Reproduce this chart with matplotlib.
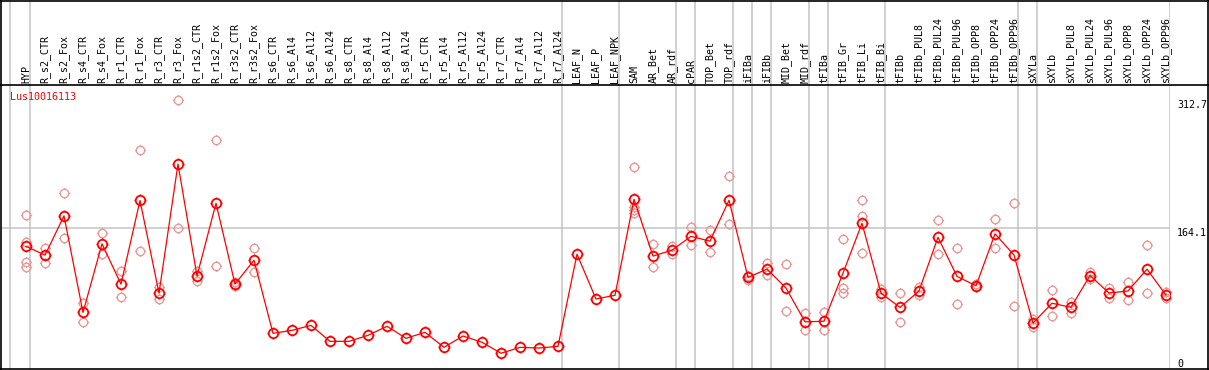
import matplotlib
matplotlib.use('Agg')
import matplotlib.pyplot as plt
import numpy as np
from matplotlib.path import Path
from matplotlib.lines import Line2D

gene = 'Lus10016113'

samples = ['HYP',
           'R_s2_CTR', 'R_s2_Fox', 'R_s4_CTR', 'R_s4_Fox', 'R_r1_CTR', 'R_r1_Fox',
           'R_r3_CTR', 'R_r3_Fox', 'R_r1s2_CTR', 'R_r1s2_Fox', 'R_r3s2_CTR', 'R_r3s2_Fox',
           'R_s6_CTR', 'R_s6_Al4', 'R_s6_Al12', 'R_s6_Al24', 'R_s8_CTR', 'R_s8_Al4',
           'R_s8_Al12', 'R_s8_Al24', 'R_r5_CTR', 'R_r5_Al4', 'R_r5_Al12', 'R_r5_Al24',
           'R_r7_CTR', 'R_r7_Al4', 'R_r7_Al12', 'R_r7_Al24',
           'LEAF_N', 'LEAF_P', 'LEAF_NPK',
           'SAM', 'AR_Bet', 'AR_rdf', 'cPAR', 'TOP_Bet', 'TOP_rdf',
           'iFIBa', 'iFIBb', 'MID_Bet', 'MID_rdf', 'tFIBa', 'tFIB_Gr', 'tFIB_Li', 'tFIB_Bi',
           'tFIBb', 'tFIBb_PUL8', 'tFIBb_PUL24', 'tFIBb_PUL96', 'tFIBb_OPP8', 'tFIBb_OPP24',
           'tFIBb_OPP96', 'sXYLa', 'sXYLb', 'sXYLb_PUL8', 'sXYLb_PUL24', 'sXYLb_PUL96',
           'sXYLb_OPP8', 'sXYLb_OPP24', 'sXYLb_OPP96']

# sample groups (separated by grey lines)
group_sizes = [1, 28, 3, 3, 1, 2, 1, 1, 2, 1, 3, 7, 1, 7]

means = [142.8,
         132.5, 178.2, 65.8, 145.7, 98.7, 196.2, 88.3, 238.6, 108.2, 192.9, 98.8, 126.6,
         41.5, 45.0, 50.8, 32.2, 32.2, 39.2, 49.7, 35.7, 42.7, 25.2, 38.4, 31.1,
         18.3, 25.2, 24.4, 26.4,
         133.6, 81.5, 85.8,
         197.5, 131.4, 138.3, 154.4, 148.8, 196.4,
         106.5, 116.3, 94.2, 54.9, 55.6, 111.6, 169.6, 88.2,
         71.7, 90.8, 153.3, 107.8, 96.8, 157.3, 132.7,
         53.5, 76.5, 71.8, 108.8, 88.4, 90.8, 116.2, 85.9]

replicates = [[179.2, 147.4, 124.2, 118.3],
              [141.2, 123.4], [204.4, 152.1], [77.2, 54.3], [157.9, 133.8],
              [113.7, 83.4], [254.5, 137.0], [95.1, 81.8], [312.7, 164.3],
              [114.0, 102.8], [266.1, 119.9], [100.9, 96.6], [140.8, 112.5],
              [], [], [], [], [], [], [], [], [], [], [], [], [], [], [], [],
              [], [], [],
              [235.0, 188.0, 185.0, 182.0], [145.1, 118.3], [142.8, 134.2],
              [164.9, 143.9], [161.4, 135.8], [224.3, 168.7],
              [108.2, 104.0], [123.4, 109.7], [121.8, 67.1], [65.2, 45.0], [66.3, 45.0],
              [151.3, 94.6, 88.8], [196.3, 178.1, 134.6], [92.7, 84.2],
              [88.1, 54.3], [95.1, 85.8], [173.0, 133.8], [140.4, 75.3], [98.9, 95.1],
              [174.6, 140.4], [193.2, 73.0],
              [58.2, 49.2], [91.9, 61.3], [78.0, 65.5], [113.2, 104.4], [94.3, 82.6],
              [101.2, 80.6], [144.3, 88.4], [89.6, 82.3]]

y_ticks = [0, 164.1, 312.7]

RED = '#ff0000'
PINK = '#e89a9a'
GREY = '#c4c4c4'
FONT = 'DejaVu Sans Mono'
FS = 7.2


def sun_marker():
    # circle with four tiny spokes, like the original plot symbols
    circ = Path.unit_circle()
    spokes = []
    for dx, dy in [(1, 0), (-1, 0), (0, 1), (0, -1)]:
        spokes.append(Path([(dx, dy), (dx * 1.25, dy * 1.25)],
                           [Path.MOVETO, Path.LINETO]))
    return Path.make_compound_path(circ, *spokes)


W, H = 1209, 370
fig = plt.figure(figsize=(W / 100, H / 100), dpi=100)

# pixel layout
left_px, right_px = 1, 1170
top_px, bottom_px = 85, 369
x0_px, step_px = 26, 19
px_per_unit = (bottom_px - 228) / 164.1

x = np.arange(len(samples))
xlim = ((left_px - x0_px) / step_px, (right_px - x0_px) / step_px)
ylim = (0, (bottom_px - top_px) / px_per_unit)

ax = fig.add_axes([left_px / W, (H - bottom_px) / H,
                   (right_px - left_px) / W, (bottom_px - top_px) / H])
lab = fig.add_axes([left_px / W, (H - top_px) / H,
                    (right_px - left_px) / W, top_px / H])

for a in (ax, lab):
    a.set_xlim(xlim)
    a.set_xticks([])
    a.set_yticks([])
    for s in a.spines.values():
        s.set_visible(False)
    a.patch.set_alpha(0)
ax.set_ylim(ylim)
lab.set_ylim(0, 1)

# group separators
ends = np.cumsum(group_sizes) - 1
seps = [-0.84] + [e + 0.22 for e in ends]
for s in seps:
    ax.axvline(s, color=GREY, lw=1.1, zorder=1)
    lab.axvline(s, color=GREY, lw=1.1, zorder=1)

ax.axhline(y_ticks[1], color=GREY, lw=1.1, zorder=1)

# replicates
mk = sun_marker()
for i, reps in enumerate(replicates):
    if reps:
        ax.plot([i] * len(reps), reps, linestyle='none', marker=mk, markersize=7.5,
                markerfacecolor='none', markeredgecolor=PINK, markeredgewidth=1.0,
                zorder=2, clip_on=False)

# mean line
ax.plot(x, means, color=RED, lw=0.9, zorder=3)
ax.plot(x, means, linestyle='none', marker=mk, markersize=8.5,
        markerfacecolor='none', markeredgecolor=RED, markeredgewidth=1.3, zorder=4)

# sample labels
for i, name in enumerate(samples):
    lab.text(i, 0.025, name, rotation=90, ha='center', va='bottom',
             fontsize=FS, family=FONT, color='black')

# gene name
ax.text(xlim[0] + 9 / step_px, ylim[1] - 12 / px_per_unit, gene,
        color=RED, fontsize=FS, family=FONT, va='center', ha='left')

# right axis values
trans = ax.get_yaxis_transform()
for v in y_ticks:
    ax.text(1 + 7 / (right_px - left_px), v, f'{v:g}', transform=trans,
            ha='left', va='bottom' if v == 0 else 'top',
            fontsize=FS, family=FONT, color='black', clip_on=False)

# outer frame and black rules
fig.add_artist(Line2D([0, 1], [(H - top_px) / H] * 2, color='black', lw=1.2))
fig.add_artist(Line2D([0, 1], [(H - bottom_px) / H] * 2, color='black', lw=1.2))
fig.add_artist(Line2D([0.5 / W] * 2, [0, 1], color='black', lw=1.2))
fig.add_artist(Line2D([1 - 0.7 / W] * 2, [0, 1], color='black', lw=1.2))
fig.add_artist(Line2D([0, 1], [1 - 0.5 / H] * 2, color='black', lw=1.2))

fig.savefig('out.png', dpi=100)
plt.close(fig)
